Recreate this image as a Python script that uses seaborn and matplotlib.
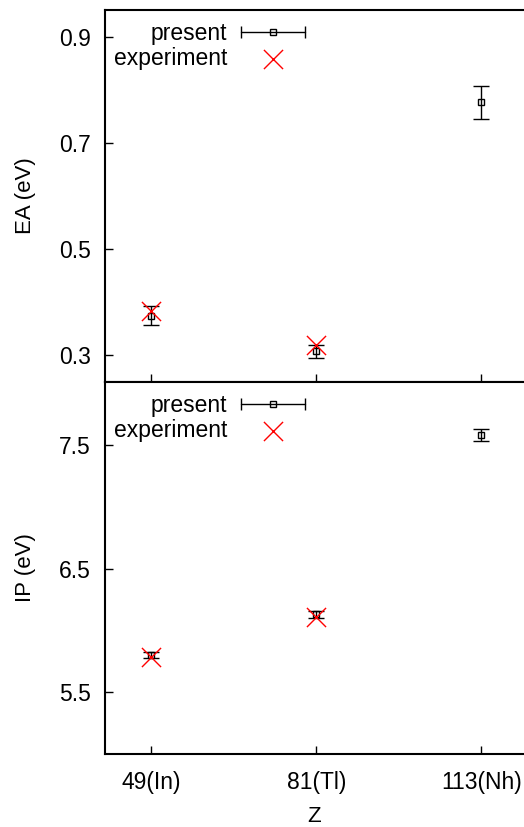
import matplotlib
matplotlib.use("Agg")
import matplotlib.pyplot as plt
import seaborn as sns
import pandas as pd
from matplotlib.legend_handler import HandlerBase
from matplotlib.lines import Line2D
from matplotlib.container import ErrorbarContainer

# ---- data ----
z_values = [49, 81, 113]
z_labels = ["49(In)", "81(Tl)", "113(Nh)"]
ea_present = [0.375, 0.308, 0.776]
ea_present_err = [0.018, 0.012, 0.031]
ea_exp_z = [49, 81]
ea_exp = [0.383, 0.320]
ip_present = [5.80, 6.13, 7.58]
ip_present_err = [0.022, 0.03, 0.046]
ip_exp_z = [49, 81]
ip_exp = [5.786, 6.108]
ea_ticks = [0.3, 0.5, 0.7, 0.9]
ip_ticks = [5.5, 6.5, 7.5]

sns.set_theme(style="ticks")
plt.rcParams["font.family"] = ["Liberation Sans", "DejaVu Sans"]
plt.rcParams["font.size"] = 16
for k in ["text.color", "axes.labelcolor", "xtick.color", "ytick.color"]:
    plt.rcParams[k] = "black"

W, H = 524, 827
fig = plt.figure(figsize=(W / 100, H / 100), dpi=100)
left = 105 / W
width = 1.0 - left
ax1 = fig.add_axes([left, (H - 382) / H, width, 372 / H])
ax2 = fig.add_axes([left, (H - 754) / H, width, 372 / H])


class HandlerHBar(HandlerBase):
    def create_artists(self, legend, orig_handle, xdescent, ydescent,
                       width, height, fontsize, trans):
        y = height / 2 - ydescent
        line = Line2D([-xdescent, width - xdescent], [y, y], color="black",
                      lw=1.0, marker="|", markersize=9, markeredgewidth=1.0)
        sq = Line2D([width / 2 - xdescent], [y], marker="s", markersize=4,
                    mfc="none", mec="black", mew=1.0, ls="none")
        line.set_transform(trans)
        sq.set_transform(trans)
        return [line, sq]


def draw(ax, pres, err, exp_z, exp, ylim, yticks, ylabel):
    ax.errorbar(z_values, pres, yerr=err, fmt="s", ms=4, mfc="none",
                mec="black", mew=1.0, ecolor="black", elinewidth=1.0,
                capsize=5.5, capthick=1.0, label="present", zorder=3)
    df = pd.DataFrame({"Z": exp_z, "val": exp})
    sns.scatterplot(data=df, x="Z", y="val", ax=ax, marker="x", s=190,
                    color="red", linewidth=1.0, label="experiment", zorder=4)
    ax.set_xlim(40, 121.3)
    ax.set_ylim(*ylim)
    ax.set_yticks(yticks)
    ax.set_yticklabels([f"{t}" for t in yticks])
    ax.set_xticks(z_values)
    ax.set_ylabel(ylabel, fontsize=16, labelpad=17)
    ax.tick_params(direction="in", length=6, width=1, labelsize=16.5, colors="black")
    ax.tick_params(axis="y", pad=10)
    for s in ["top", "left", "bottom"]:
        ax.spines[s].set_linewidth(1.5)
        ax.spines[s].set_color("black")
    ax.spines["right"].set_visible(False)
    handles, labels = ax.get_legend_handles_labels()
    order = [labels.index("present"), labels.index("experiment")]
    handles = [handles[i] for i in order]
    labels = [labels[i] for i in order]
    ax.legend(handles, labels, handler_map={ErrorbarContainer: HandlerHBar()},
              loc="upper right", bbox_to_anchor=((305 - 105) / 419, 0.968),
              frameon=False, markerfirst=False, handlelength=2.8,
              handletextpad=0.6, labelspacing=0.08, borderpad=0,
              borderaxespad=0, fontsize=16.5)
    return ax


draw(ax1, ea_present, ea_present_err, ea_exp_z, ea_exp, (0.25, 0.95), ea_ticks, "EA (eV)")
draw(ax2, ip_present, ip_present_err, ip_exp_z, ip_exp, (5.0, 8.01), ip_ticks, "IP (eV)")
ax1.set_xticklabels([])
ax1.set_xlabel("")
ax2.set_xticklabels(z_labels)
ax2.tick_params(axis="x", pad=12)
ax2.set_xlabel("Z", fontsize=16, labelpad=9)

fig.savefig("out.png", dpi=100)
